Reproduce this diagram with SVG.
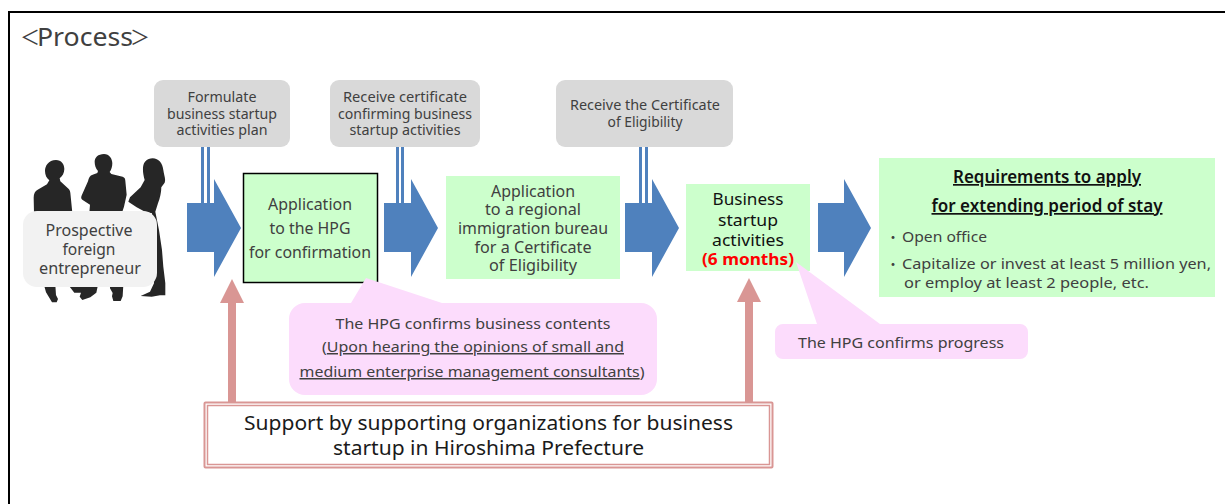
<svg xmlns="http://www.w3.org/2000/svg" width="1225" height="504" viewBox="0 0 1225 504">
<defs><style>
text{font-family:"Noto Sans","Open Sans","DejaVu Sans",sans-serif;text-anchor:middle;fill:#404040;font-size:15px}
.l{text-anchor:start}
.cjk{font-family:"Noto Sans CJK JP","Noto Sans",sans-serif}
.gray{fill:#d9d9d9}
.green{fill:#ccffcc}
.pink{fill:#fcdcfc}
.blue{fill:#4f81bd}
.rose{fill:#d99694}
.u{text-decoration:underline}
.s{fill:#262626}
.dbl{fill:#4f81bd}
</style></defs>
<rect width="1225" height="504" fill="#fff"/>
<path d="M9 504V12H1225" fill="none" stroke="#000" stroke-width="2"/>
<text id="title" class="l" y="46" style="font-size:25px"><tspan class="cjk" x="20" style="font-size:20px" dy="-1">＜</tspan><tspan x="37" dy="1" textLength="96" lengthAdjust="spacingAndGlyphs">Process</tspan><tspan class="cjk" x="130" style="font-size:20px" dy="-1">＞</tspan></text>

<g id="connectors">
<path class="dbl" d="M201 147h3v56h-3zM207 147h3v56h-3zM396 145h3v58h-3zM401 145h3v58h-3zM639 147h3v56h-3zM645 147h3v56h-3z"/>
<path class="blue" d="M187 203h27v-24l27 49-27 49v-25h-27z"/>
<path class="blue" d="M384 203h27v-24l27 49-27 49v-25h-27z"/>
<path class="blue" d="M625 203h27v-24l27 49-27 49v-25h-27z"/>
<path class="blue" d="M818 203h26v-24l27 49-27 49v-25h-26z"/>
<path class="rose" d="M228 404v-101h-8l12-24 12 24h-8v101z"/>
<path class="rose" d="M745 404v-102h-8l12-24 12 24h-8v102z"/>
</g>

<g id="people">
<g transform="translate(20 150) scale(.3333)">
<path class="s" d="M108 30c16 0 25 12 25 27 0 12-6 22-14 28l2 9 22 20c5 4 7 8 8 14l6 60H42l-1-45c0-12 4-20 12-24l28-16 7-12c-8-6-13-16-13-28 0-15 10-33 33-33z"/>
<path class="s" d="M252 12c16 0 25 14 25 28 0 10-3 20-8 26l5 6 34 8c6 2 8 6 8 12l4 42-8 36-6 18H208l2-24-22-14c-6-4-5-10-2-16l18-40c2-10 6-18 14-20l14-5 2-6c-7-8-10-18-10-28 0-12 10-23 28-23z"/>
<path class="s" d="M398 25C416 25 428 40 430 60C432 75 438 88 434 98L424 112C424 128 420 145 414 160L406 185L417 240L426 300L430 350L436 400L436 436L420 436L395 440L362 438L390 425L402 400L396 190L375 185L350 172L325 155L330 142L362 112L374 90C368 70 366 45 375 35C382 28 390 25 398 25z"/>
<path class="s" d="M72 405h34l2 30 6 12-4 10H96l-18-30zM145 405h62l28-5-6 28-18 14-24 8-8-10 4-12-20 0zM270 405h40l-2 34-6 14h-22l-4-14 2-10-8-14z"/>
</g>
</g>

<g id="n-prospective">
<rect x="23" y="211" width="134" height="76" rx="14" fill="#f2f2f2"/>
<text x="89" y="236" textLength="87" lengthAdjust="spacingAndGlyphs" style="font-size:16px">Prospective</text>
<text x="89" y="255" textLength="53" lengthAdjust="spacingAndGlyphs" style="font-size:16px">foreign</text>
<text x="90" y="274" textLength="102" lengthAdjust="spacingAndGlyphs" style="font-size:16px">entrepreneur</text>
</g>

<g id="n-formulate">
<rect class="gray" x="154" y="80" width="136" height="67" rx="9"/>
<text x="222" y="102" textLength="69" lengthAdjust="spacingAndGlyphs">Formulate</text>
<text x="222" y="119" textLength="110" lengthAdjust="spacingAndGlyphs">business startup</text>
<text x="222" y="135" textLength="91" lengthAdjust="spacingAndGlyphs">activities plan</text>
</g>
<g id="n-receive-certificate">
<rect class="gray" x="330" y="80" width="150" height="67" rx="9"/>
<text x="405" y="102" textLength="124" lengthAdjust="spacingAndGlyphs">Receive certificate</text>
<text x="405" y="119" textLength="134" lengthAdjust="spacingAndGlyphs">confirming business</text>
<text x="405" y="135" textLength="111" lengthAdjust="spacingAndGlyphs">startup activities</text>
</g>
<g id="n-receive-coe">
<rect class="gray" x="556" y="80" width="177" height="67" rx="9"/>
<text x="645" y="110" textLength="150" lengthAdjust="spacingAndGlyphs">Receive the Certificate</text>
<text x="645" y="127" textLength="75" lengthAdjust="spacingAndGlyphs">of Eligibility</text>
</g>

<g id="n-hpg">
<rect class="green" x="243.500" y="173.500" width="134" height="109" stroke="#000" stroke-width="1.500"/>
<text x="310" y="210" textLength="84" lengthAdjust="spacingAndGlyphs" style="font-size:16px">Application</text>
<text x="310" y="234" textLength="81" lengthAdjust="spacingAndGlyphs" style="font-size:16px">to the HPG</text>
<text x="310" y="258" textLength="122" lengthAdjust="spacingAndGlyphs" style="font-size:16px">for confirmation</text>
</g>
<g id="n-bureau">
<rect class="green" x="446" y="176" width="174" height="103"/>
<text x="533" y="197" textLength="84" lengthAdjust="spacingAndGlyphs" style="font-size:16px">Application</text>
<text x="533" y="215" textLength="96" lengthAdjust="spacingAndGlyphs" style="font-size:16px">to a regional</text>
<text x="533" y="234" textLength="150" lengthAdjust="spacingAndGlyphs" style="font-size:16px">immigration bureau</text>
<text x="533" y="253" textLength="117" lengthAdjust="spacingAndGlyphs" style="font-size:16px">for a Certificate</text>
<text x="533" y="271" textLength="88" lengthAdjust="spacingAndGlyphs" style="font-size:16px">of Eligibility</text>
</g>
<g id="n-activities">
<rect class="green" x="686" y="184" width="124" height="87"/>
<text x="748" y="205" textLength="71" lengthAdjust="spacingAndGlyphs" style="font-size:16px;fill:#111">Business</text>
<text x="748" y="226" textLength="60" lengthAdjust="spacingAndGlyphs" style="font-size:16px;fill:#111">startup</text>
<text x="748" y="246" textLength="72" lengthAdjust="spacingAndGlyphs" style="font-size:16px;fill:#111">activities</text>
<text x="748" y="265" textLength="92" lengthAdjust="spacingAndGlyphs" style="font-size:16px;font-weight:700;fill:#ff0000">(6 months)</text>
</g>
<g id="n-requirements">
<rect class="green" x="879" y="158" width="336" height="139"/>
<text class="u" x="1047" y="183" textLength="188" lengthAdjust="spacingAndGlyphs" style="font-size:17px;font-weight:600;fill:#111">Requirements to apply</text>
<text class="u" x="1047" y="212" textLength="231" lengthAdjust="spacingAndGlyphs" style="font-size:17px;font-weight:600;fill:#111">for extending period of stay</text>
<text class="l" y="242"><tspan class="cjk" x="886" style="font-size:14px">・</tspan><tspan x="902" textLength="85" lengthAdjust="spacingAndGlyphs">Open office</tspan></text>
<text class="l" y="269"><tspan class="cjk" x="886" style="font-size:14px">・</tspan><tspan x="902" textLength="309" lengthAdjust="spacingAndGlyphs">Capitalize or invest at least 5 million yen,</tspan></text>
<text class="l" x="904" y="288" textLength="245" lengthAdjust="spacingAndGlyphs">or employ at least 2 people, etc.</text>
</g>

<g id="n-confirms-contents">
<path class="pink" d="M305 303H351L366 278L442 303H641a16 16 0 0 1 16 16v60a16 16 0 0 1-16 16H305a16 16 0 0 1-16-16v-60a16 16 0 0 1 16-16z"/>
<text x="473" y="329" textLength="275" lengthAdjust="spacingAndGlyphs">The HPG confirms business contents</text>
<text x="473" y="352" textLength="302" lengthAdjust="spacingAndGlyphs">(<tspan class="u">Upon hearing the opinions of small and</tspan></text>
<text x="472" y="377" textLength="345" lengthAdjust="spacingAndGlyphs"><tspan class="u">medium enterprise management consultants</tspan>)</text>
</g>
<g id="n-confirms-progress">
<path class="pink" d="M783 324H817L796 262L880 324H1020a8 8 0 0 1 8 8v19a8 8 0 0 1-8 8H783a8 8 0 0 1-8-8v-19a8 8 0 0 1 8-8z"/>
<text x="901" y="348" textLength="206" lengthAdjust="spacingAndGlyphs">The HPG confirms progress</text>
</g>
<g id="n-support">
<rect x="204.500" y="402.500" width="568" height="65" rx="1" fill="#fff" stroke="#d99694" stroke-width="2"/>
<rect x="207.500" y="405.500" width="562" height="59" fill="#fff" stroke="#d99694" stroke-width="1.500"/>
<text x="488.500" y="430" textLength="489" lengthAdjust="spacingAndGlyphs" style="font-size:20px;fill:#1a1a1a">Support by supporting organizations for business</text>
<text x="488.500" y="455" textLength="311" lengthAdjust="spacingAndGlyphs" style="font-size:20px;fill:#1a1a1a">startup in Hiroshima Prefecture</text>
</g>
</svg>
